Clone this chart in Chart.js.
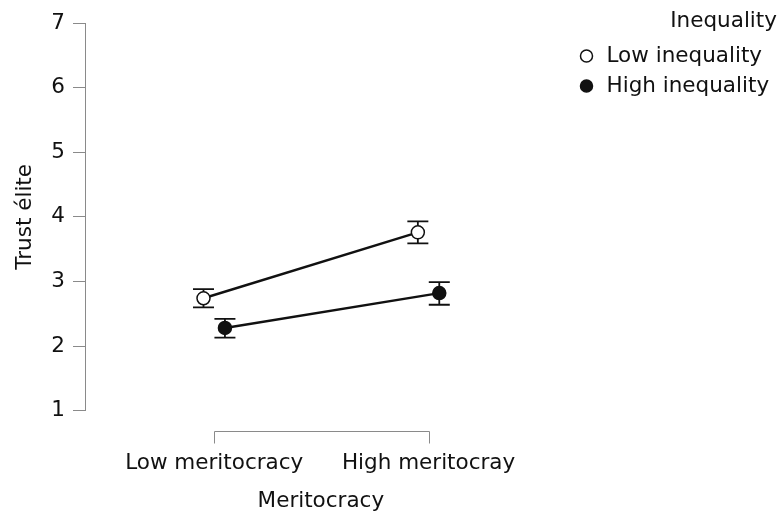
<!DOCTYPE html>
<html>
<head>
<meta charset="utf-8">
<script src="https://cdn.jsdelivr.net/npm/chart.js@4"></script>
<style>
  html, body { margin: 0; padding: 0; background: #ffffff; }
  #c { display: block; }
</style>
</head>
<body>
<canvas id="c" width="782" height="518"></canvas>
<script>
// Trust in the elite by meritocracy condition, split by inequality level
const categories = ['Low meritocracy', 'High meritocray'];
const seriesNames = ['Low inequality', 'High inequality'];

const lowInequalityMean  = [2.74, 3.76];
const lowInequalityLower = [2.60, 3.59];
const lowInequalityUpper = [2.88, 3.93];

const highInequalityMean  = [2.28, 2.82];
const highInequalityLower = [2.13, 2.64];
const highInequalityUpper = [2.42, 2.99];

const yTickValues = [1, 2, 3, 4, 5, 6, 7];

// horizontal offset of each series around its category (in category units)
const DODGE = 0.05;
const FONT = { family: '"DejaVu Sans", sans-serif', size: 21.5 };
const AXIS_GREY = '#8a8a8a';
const INK = '#111111';

function toPoints(means, offset) {
  return means.map((m, i) => ({ x: i + offset, y: m }));
}

const datasets = [
  {
    label: seriesNames[0],
    data: toPoints(lowInequalityMean, -DODGE),
    lower: lowInequalityLower,
    upper: lowInequalityUpper,
    borderColor: INK,
    borderWidth: 2.4,
    pointRadius: 6.5,
    pointBorderWidth: 1.5,
    pointBackgroundColor: '#ffffff',
    pointBorderColor: INK,
    pointStyle: 'circle',
    tension: 0
  },
  {
    label: seriesNames[1],
    data: toPoints(highInequalityMean, DODGE),
    lower: highInequalityLower,
    upper: highInequalityUpper,
    borderColor: INK,
    borderWidth: 2.4,
    pointRadius: 6.5,
    pointBorderWidth: 1.5,
    pointBackgroundColor: INK,
    pointBorderColor: INK,
    pointStyle: 'circle',
    tension: 0
  }
];

// Error bars with caps, drawn beneath the lines and points
const errorBars = {
  id: 'errorBars',
  beforeDatasetsDraw(chart) {
    const ctx = chart.ctx;
    const y = chart.scales.y;
    const cap = 10.5;
    ctx.save();
    ctx.strokeStyle = INK;
    ctx.lineWidth = 1.8;
    chart.data.datasets.forEach((ds, di) => {
      const meta = chart.getDatasetMeta(di);
      meta.data.forEach((pt, i) => {
        const yl = y.getPixelForValue(ds.lower[i]);
        const yu = y.getPixelForValue(ds.upper[i]);
        ctx.beginPath();
        ctx.moveTo(pt.x, yl); ctx.lineTo(pt.x, yu);
        ctx.moveTo(pt.x - cap, yl); ctx.lineTo(pt.x + cap, yl);
        ctx.moveTo(pt.x - cap, yu); ctx.lineTo(pt.x + cap, yu);
        ctx.stroke();
      });
    });
    ctx.restore();
  }
};

// Range-frame bracket for the x axis, spanning the first to last category
const xBracket = {
  id: 'xBracket',
  afterDraw(chart) {
    const ctx = chart.ctx;
    const x = chart.scales.x;
    const x0 = Math.round(x.getPixelForValue(0)) + 0.5;
    const x1 = Math.round(x.getPixelForValue(categories.length - 1)) + 0.5;
    const top = Math.round(chart.chartArea.bottom + 20) + 0.5;
    const tick = 12;
    ctx.save();
    ctx.strokeStyle = AXIS_GREY;
    ctx.lineWidth = 1;
    ctx.beginPath();
    ctx.moveTo(x0, top + tick); ctx.lineTo(x0, top);
    ctx.lineTo(x1, top); ctx.lineTo(x1, top + tick);
    ctx.stroke();
    ctx.restore();
  }
};

// Give the legend some extra room on its left and let its title sit above the plot top
const legendFrame = {
  id: 'legendFrame',
  beforeLayout(chart) {
    const lg = chart.legend;
    if (lg && !lg._widened) {
      const fit = lg.fit;
      lg.fit = function () { fit.call(this); this.width += 26; };
      lg._widened = true;
    }
  },
  afterLayout(chart) {
    const lg = chart.legend;
    if (!lg) return;
    lg.left += 12; lg.width -= 12;
    lg.top -= 12; lg.height += 12;
  }
};

new Chart(document.getElementById('c'), {
  type: 'line',
  data: { datasets },
  plugins: [errorBars, xBracket, legendFrame],
  options: {
    responsive: false,
    animation: false,
    layout: { padding: { top: 23, right: 5, bottom: 0, left: 0 } },
    plugins: {
      tooltip: { enabled: false },
      legend: {
        position: 'right',
        align: 'start',
        title: {
          display: true,
          text: 'Inequality',
          position: 'end',
          color: INK,
          font: FONT,
          padding: { top: 0, bottom: 0 }
        },
        labels: {
          usePointStyle: true,
          boxWidth: 18.5,
          boxHeight: 8.5,
          padding: 8.5,
          color: INK,
          font: FONT
        }
      }
    },
    scales: {
      x: {
        type: 'linear',
        min: -0.6028,
        max: 1.598,
        afterBuildTicks(scale) {
          scale.ticks = categories.map((_, i) => ({ value: i }));
        },
        afterFit(scale) { scale.height = 107.3; },
        grid: { display: false },
        border: { display: false },
        ticks: {
          autoSkip: false,
          maxRotation: 0,
          padding: 32,
          color: INK,
          font: FONT,
          callback: (v) => categories[v] ?? ''
        },
        title: {
          display: true,
          text: 'Meritocracy',
          color: INK,
          font: FONT,
          padding: { top: 4, bottom: 4 }
        }
      },
      y: {
        min: 1,
        max: 7,
        afterBuildTicks(scale) {
          scale.ticks = yTickValues.map(v => ({ value: v }));
        },
        afterFit(scale) { scale.width = 85; },
        grid: {
          drawOnChartArea: false,
          drawTicks: true,
          tickLength: 12,
          color: AXIS_GREY
        },
        border: { display: true, color: AXIS_GREY, width: 1 },
        ticks: { padding: 8, color: INK, font: FONT },
        title: {
          display: true,
          text: 'Trust élite',
          color: INK,
          font: FONT,
          padding: { top: 13, bottom: 4 }
        }
      }
    }
  }
});
</script>
</body>
</html>
